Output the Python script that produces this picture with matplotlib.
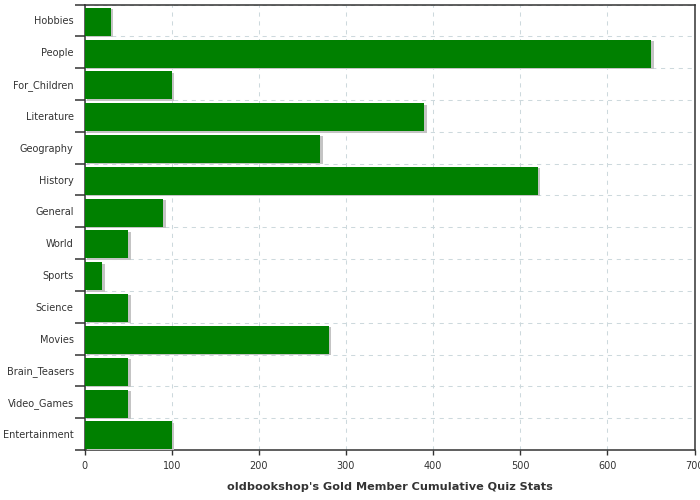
import matplotlib
matplotlib.use("Agg")
import matplotlib.pyplot as plt
import matplotlib.patheffects as pe
import numpy as np

categories = ["Hobbies", "People", "For_Children", "Literature", "Geography", "History",
              "General", "World", "Sports", "Science", "Movies", "Brain_Teasers",
              "Video_Games", "Entertainment"]
values = [30, 650, 100, 390, 270, 520, 90, 50, 20, 50, 280, 50, 50, 100]
xticks = [0, 100, 200, 300, 400, 500, 600, 700]
xlabel = "oldbookshop's Gold Member Cumulative Quiz Stats"

fig = plt.figure(figsize=(7, 5), dpi=100)
ax = fig.add_axes([84.5/700, 0.1, (694.5-84.5)/700, (450-4.5)/500])

n = len(categories)
ypos = np.arange(n)
bars = ax.barh(ypos + 0.04, values, height=0.88, color="#008000", zorder=3)
for b in bars:
    b.set_path_effects([pe.SimplePatchShadow(offset=(2, -1), shadow_rgbFace="#c4c4c4", alpha=1.0),
                        pe.Normal()])

ax.set_ylim(n - 0.5, -0.5)
ax.set_xlim(0, 700)
ax.set_xticks(xticks)
ax.set_xticklabels([str(t) for t in xticks], fontsize=7, color="#333333")

ax.set_yticks(np.arange(-0.5, n, 1.0))
ax.set_yticklabels([])
ax.set_yticks(ypos, minor=True)
ax.set_yticklabels(categories, minor=True, fontsize=7, color="#333333")
ax.tick_params(axis="y", which="major", length=7.2, width=1.1, color="#333333")
ax.tick_params(axis="y", which="minor", length=0, pad=7.8)
ax.tick_params(axis="x", which="major", length=3.6, width=1, color="#333333", pad=4.5)

ax.grid(True, which="major", axis="both", color="#cdd9dd", linestyle=(0, (4, 4.5)), linewidth=0.75, zorder=0)
ax.set_axisbelow(True)

for s in ax.spines.values():
    s.set_color("#333333")
    s.set_linewidth(1.1)

ax.set_xlabel(xlabel, fontsize=8.1, fontweight="bold", color="#333333", labelpad=7.5)

fig.savefig("out.png", dpi=100)
